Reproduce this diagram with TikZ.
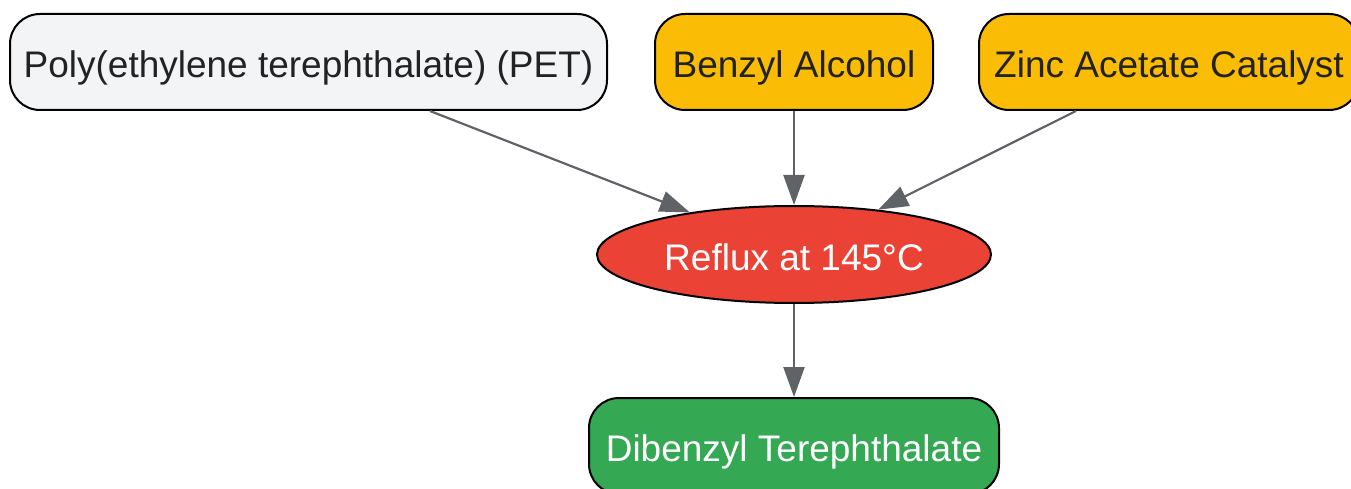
\documentclass[tikz,border=0pt]{standalone}
\usepackage{fontspec}
\setmainfont{Liberation Sans}
\usetikzlibrary{arrows.meta,shapes.geometric}
\definecolor{petfill}{HTML}{F3F4F6}
\definecolor{amber}{HTML}{FBBC05}
\definecolor{redf}{HTML}{EA4335}
\definecolor{greenf}{HTML}{34A853}
\definecolor{edgegray}{HTML}{5F6368}
\definecolor{darktext}{HTML}{222222}
\tikzset{
  lbl/.style={font=\fontsize{37}{40}\selectfont, text height=31.5pt, text depth=0pt},
  box/.style={lbl, draw=black, line width=2pt, rounded corners=30pt, minimum height=96pt, inner sep=0pt, text=darktext},
  oval/.style={lbl, ellipse, draw=black, line width=2pt, minimum width=394pt, minimum height=97pt, inner sep=0pt, text=white, fill=redf},
  conn/.style={draw=edgegray, line width=2.2pt, -{Triangle[length=30pt,width=21pt]}}
}
\begin{document}
\begin{tikzpicture}[x=1pt,y=-1pt]
\useasboundingbox (0,0) rectangle (1351,489);
\clip (0,0) rectangle (1351,489);
\node[box, fill=petfill, minimum width=597pt] (pet) at (308.5,62) {Poly(ethylene terephthalate) (PET)};
\node[box, fill=amber, minimum width=278pt] (ba) at (794,62) {Benzyl Alcohol};
\node[box, fill=amber, minimum width=380pt] (zn) at (1169,62) {Zinc Acetate Catalyst};
\node[oval] (rf) at (794,254.5) {Reflux at 145°C};
\node[box, fill=greenf, text=white, minimum width=410pt] (db) at (794,446) {Dibenzyl Terephthalate};
\draw[conn] ([xshift=121.5pt]pet.south) -- (rf.158);
\draw[conn] (ba.south) -- (rf.north);
\draw[conn] ([xshift=-93pt]zn.south) -- (rf.28);
\draw[conn] (rf.south) -- (db.north);
\end{tikzpicture}
\end{document}
